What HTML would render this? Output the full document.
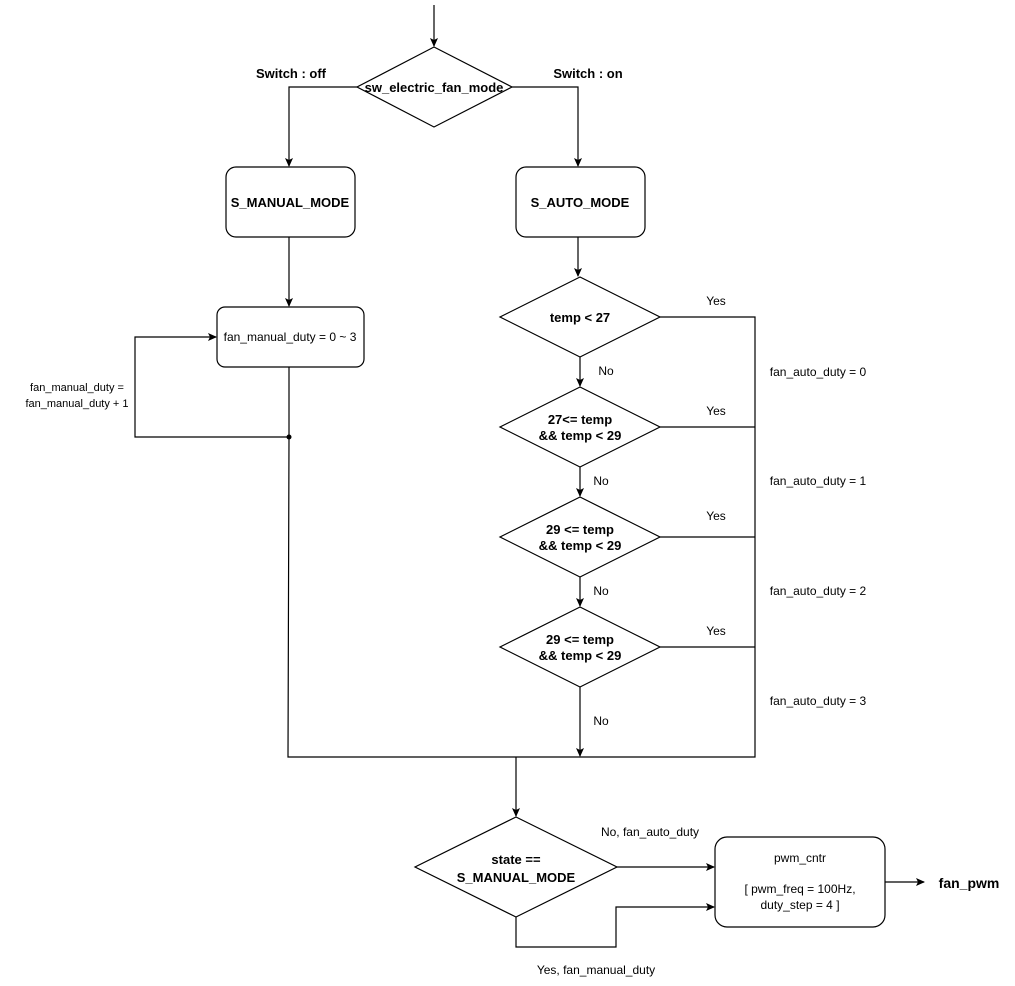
<!DOCTYPE html>
<html><head><meta charset="utf-8"><style>body{margin:0;background:#fff}svg{display:block}text{font-family:"Liberation Sans",Arial,sans-serif;fill:#000}</style></head><body>
<svg width="1015" height="986" viewBox="0 0 1015 986" xmlns="http://www.w3.org/2000/svg">
<defs><marker id="a" markerWidth="10" markerHeight="10" refX="8" refY="5" orient="auto" markerUnits="userSpaceOnUse"><path d="M0,1 L9,5 L0,9 L2,5 Z" fill="#000"/></marker></defs>
<g fill="none" stroke="#000" stroke-width="1.2">
<path d="M434,5 V46" marker-end="url(#a)"/>
<polygon points="434,47 512,87 434,127 357,87" fill="#fff"/>
<path d="M357,87 H289 V166" marker-end="url(#a)"/>
<path d="M512,87 H578 V166" marker-end="url(#a)"/>
<rect x="226" y="167" width="129" height="70" rx="10"/>
<rect x="516" y="167" width="129" height="70" rx="10"/>
<path d="M289,237 V306" marker-end="url(#a)"/>
<rect x="217" y="307" width="147" height="60" rx="8"/>
<path d="M289,367 V437 H135 V337 H216" marker-end="url(#a)"/>
<path d="M289,437 L288,757 H755 V317 H660"/>
<path d="M578,237 V276" marker-end="url(#a)"/>
<polygon points="580,277 660,317 580,357 500,317"/>
<path d="M580,357 V386" marker-end="url(#a)"/>
<polygon points="580,387 660,427 580,467 500,427"/>
<path d="M580,467 V496" marker-end="url(#a)"/>
<polygon points="580,497 660,537 580,577 500,537"/>
<path d="M580,577 V606" marker-end="url(#a)"/>
<polygon points="580,607 660,647 580,687 500,647"/>
<path d="M580,687 V756" marker-end="url(#a)"/>
<path d="M660,427 H755 M660,537 H755 M660,647 H755"/>
<path d="M516,757 V816" marker-end="url(#a)"/>
<polygon points="516,817 617,867 516,917 415,867"/>
<path d="M617,867 H714" marker-end="url(#a)"/>
<path d="M516,917 V947 H616 V907 H714" marker-end="url(#a)"/>
<rect x="715" y="837" width="170" height="90" rx="12"/>
<path d="M885,882 H924" marker-end="url(#a)"/>
</g>
<circle cx="289" cy="437" r="2.5" fill="#000"/>
<g font-size="13" font-weight="bold" text-anchor="middle">
<text x="291" y="78">Switch : off</text>
<text x="588" y="78">Switch : on</text>
<text x="434" y="92">sw_electric_fan_mode</text>
<text x="290" y="207">S_MANUAL_MODE</text>
<text x="580" y="207">S_AUTO_MODE</text>
<text x="580" y="322">temp &lt; 27</text>
<text x="580" y="424">27&lt;= temp</text><text x="580" y="440">&amp;&amp; temp &lt; 29</text>
<text x="580" y="534">29 &lt;= temp</text><text x="580" y="550">&amp;&amp; temp &lt; 29</text>
<text x="580" y="644">29 &lt;= temp</text><text x="580" y="660">&amp;&amp; temp &lt; 29</text>
<text x="516" y="864">state ==</text><text x="516" y="882">S_MANUAL_MODE</text>
<text x="969" y="888" font-size="14">fan_pwm</text>
</g>
<g font-size="12" text-anchor="middle">
<text x="290" y="341">fan_manual_duty = 0 ~ 3</text>
<text x="716" y="305">Yes</text><text x="716" y="415">Yes</text><text x="716" y="520">Yes</text><text x="716" y="635">Yes</text>
<text x="606" y="375">No</text><text x="601" y="485">No</text><text x="601" y="595">No</text><text x="601" y="725">No</text>
<text x="818" y="376">fan_auto_duty = 0</text>
<text x="818" y="485">fan_auto_duty = 1</text>
<text x="818" y="595">fan_auto_duty = 2</text>
<text x="818" y="705">fan_auto_duty = 3</text>
<text x="650" y="836">No, fan_auto_duty</text>
<text x="596" y="974">Yes, fan_manual_duty</text>
<text x="800" y="862">pwm_cntr</text>
<text x="800" y="893">[ pwm_freq = 100Hz,</text>
<text x="800" y="909">duty_step = 4 ]</text>
<text x="77" y="391" font-size="11">fan_manual_duty =</text>
<text x="77" y="407" font-size="11">fan_manual_duty + 1</text>
</g>
</svg>
</body></html>
